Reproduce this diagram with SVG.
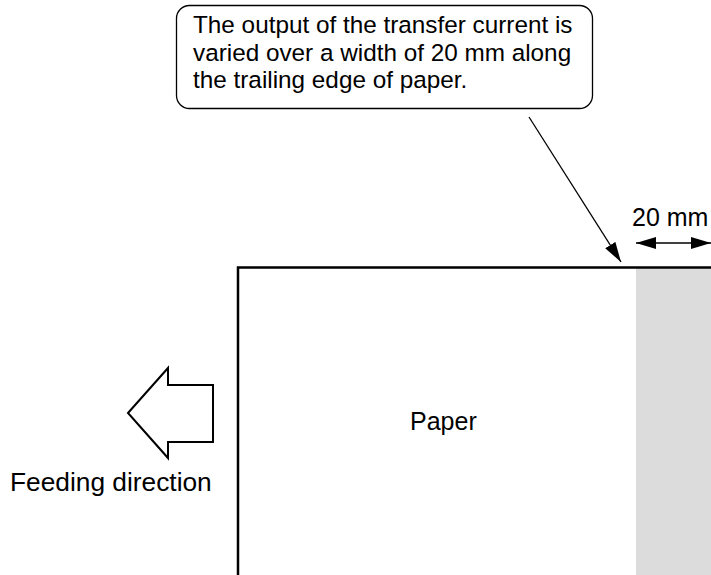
<svg xmlns="http://www.w3.org/2000/svg" width="711" height="575" viewBox="0 0 711 575">
<defs>
<style>
text{font-family:"Liberation Sans",Arial,Helvetica,sans-serif;font-size:25px;fill:#000}
.co{font-size:24.3px}
.ln{stroke:#000;stroke-width:1.3;fill:none}
</style>
<marker id="ah" viewBox="0 0 20 12" refX="20" refY="6" markerWidth="20" markerHeight="12" markerUnits="userSpaceOnUse" orient="auto-start-reverse">
<path d="M0,0 L20,6 L0,12 Z" fill="#000"/>
</marker>
</defs>
<rect width="711" height="575" fill="#fff"/>
<g id="paper">
<rect x="636" y="268" width="75" height="307" fill="#dcdcdc"/>
<path d="M238,575 V267.5 H711" fill="none" stroke="#000" stroke-width="2.5"/>
<text x="410" y="430">Paper</text>
</g>
<g id="callout">
<rect x="176.5" y="5.5" width="416" height="103" rx="13" fill="#fff" stroke="#000" stroke-width="1.3"/>
<text class="co" x="193" y="33">The output of the transfer current is</text>
<text class="co" x="193" y="61">varied over a width of 20 mm along</text>
<text class="co" x="193" y="88">the trailing edge of paper.</text>
</g>
<g id="dimension">
<text x="632" y="226" font-size="25.5">20 mm</text>
</g>
<g id="feed">
<path d="M128,413 L168,368 V385 H213 V442 H168 V458 Z" fill="#fff" stroke="#000" stroke-width="2" stroke-linejoin="miter"/>
<text x="10" y="491" style="font-size:26.3px">Feeding direction</text>
</g>
<g id="connectors">
<line class="ln" x1="529" y1="117" x2="621" y2="262" marker-end="url(#ah)"/>
<line class="ln" x1="636" y1="243" x2="711" y2="243" marker-start="url(#ah)" marker-end="url(#ah)"/>
</g>
</svg>
